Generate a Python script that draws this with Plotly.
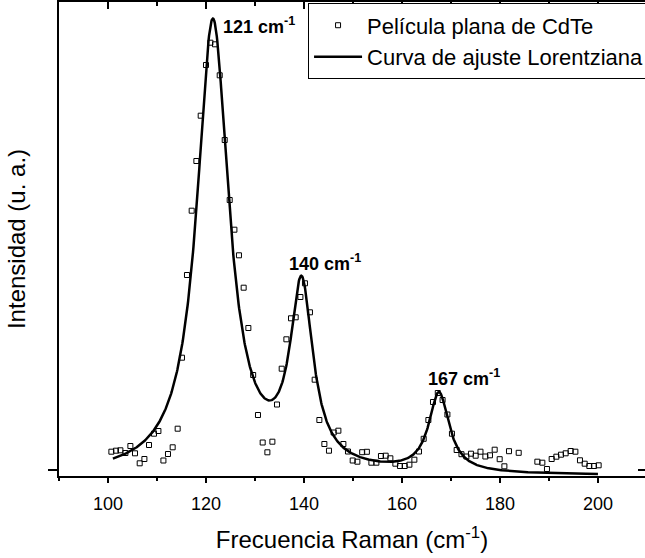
import numpy as np
import plotly.graph_objects as go

# ---- data ----
raman_shift = [100.69, 101.63, 102.53, 103.55, 104.57, 105.51, 106.47, 107.43, 108.37, 109.39,
               110.29, 111.31, 112.24, 113.20, 114.22, 115.10, 116.12, 117.08, 118.04, 118.92,
               120.00, 120.90, 121.84, 122.80, 123.82, 124.84, 125.80, 126.73, 127.69, 128.65,
               129.63, 130.61, 131.57, 132.53, 133.55, 134.49, 135.45, 136.41, 137.35, 138.31,
               139.27, 140.20, 141.22, 142.18, 143.14, 144.16, 145.10, 146.06, 147.02, 148.04,
               148.98, 149.94, 150.90, 151.88, 152.84, 153.76, 154.78, 155.71, 156.67, 157.63,
               158.65, 159.59, 160.55, 161.51, 162.53, 163.47, 164.43, 165.39, 166.33, 167.31,
               168.29, 169.27, 170.20, 171.16, 172.14, 173.14, 174.08, 175.04, 176.02, 177.02,
               177.96, 178.92, 179.94, 180.90, 181.84, 183.82, 187.63, 188.65, 189.59, 190.55,
               191.51, 192.45, 193.41, 194.43, 195.39, 196.33, 197.29, 198.24, 199.18, 200.14]
intensity = [18.3, 19.3, 19.7, 17, 24, 16.7, 6.7, 11, 25, 36.3,
             39, 9.5, 16, 22.7, 41.3, 112.3, 195, 259.3, 309, 354.3,
             405, 427.3, 425.7, 394.7, 330, 270, 240.3, 214.7, 182.3, 142,
             95, 55, 27.5, 17.7, 28.3, 65.5, 101.3, 130.7, 151.7, 152.7,
             173, 186.7, 157.7, 90.3, 50, 26, 19.3, 37.5, 39.3, 26,
             18.5, 9.5, 8.3, 17.8, 18.2, 7.3, 7.3, 14, 14.3, 11.7,
             6.3, 4, 4, 5.3, 10.3, 18.5, 31.2, 50, 68, 77,
             70, 55.5, 36.3, 20, 15.8, 13.5, 16.3, 14.3, 18.3, 13.5,
             14.7, 20.3, 10.8, 3.7, 18.8, 17.2, 8.3, 7.3, 1, 11,
             13.3, 15.3, 16.7, 19, 18.3, 9.7, 6.3, 4, 4, 4.7]

# Lorentzian fit parameters
peak_centers = [121.4, 139.5, 167.55]
peak_heights = [453.0, 179.0, 79.0]
peak_hwhm = [3.95, 2.8, 2.5]
fit_baseline = -6.0
fit_range = [101.0, 200.0]

peak_labels = ["121 cm<sup>-1</sup>", "140 cm<sup>-1</sup>", "167 cm<sup>-1</sup>"]
label_x = [123.0, 136.5, 164.9]
label_y = [445, 208, 93]

x_ticks = [100, 120, 140, 160, 180, 200]

# ---- fit curve from the Lorentzian parameters ----
xf = np.linspace(fit_range[0], fit_range[1], 1000)
yf = np.full_like(xf, fit_baseline)
for c, a, w in zip(peak_centers, peak_heights, peak_hwhm):
    yf += a / (1.0 + ((xf - c) / w) ** 2)

FONT = "Arial, Liberation Sans, sans-serif"
XR = [90, 209.6]
YR = [-6, 468]

fig = go.Figure()
fig.add_trace(go.Scatter(
    x=raman_shift, y=intensity, mode="markers",
    name="Película plana de CdTe",
    marker=dict(symbol="square-open", size=5, color="black", line=dict(width=1, color="black")),
))
fig.add_trace(go.Scatter(
    x=xf, y=yf, mode="lines",
    name="Curva de ajuste Lorentziana",
    line=dict(color="black", width=2.5),
))
# empty trace to bring the mirrored (top/right) axes into existence
fig.add_trace(go.Scatter(x=[], y=[], xaxis="x2", yaxis="y2", showlegend=False, hoverinfo="skip"))

for lx, ly, lt in zip(label_x, label_y, peak_labels):
    fig.add_annotation(x=lx, y=ly, text="<b>" + lt + "</b>", showarrow=False,
                       xanchor="left", yanchor="middle",
                       font=dict(family=FONT, size=18, color="black"))

fig.update_layout(
    width=645, height=558,
    margin=dict(l=59, r=0, t=2, b=82, autoexpand=False),
    paper_bgcolor="white", plot_bgcolor="white",
    font=dict(family=FONT, color="black"),
    showlegend=True,
    legend=dict(x=0.425, y=0.997, xanchor="left", yanchor="top",
                bordercolor="black", borderwidth=1, bgcolor="white",
                font=dict(family=FONT, size=22, color="black"),
                tracegroupgap=0, itemwidth=48),
    xaxis=dict(range=XR, tickvals=x_ticks, ticks="outside", ticklen=5, tickwidth=1.5,
               tickcolor="black", showline=True, linecolor="black", linewidth=1.5,
               showgrid=False, zeroline=False, ticklabelstandoff=6,
               tickfont=dict(family=FONT, size=18, color="black"),
               minor=dict(dtick=10, tick0=0, ticks="outside", ticklen=3, tickwidth=1.5,
                          tickcolor="black", showgrid=False),
               title=dict(text="Frecuencia Raman (cm<sup>-1</sup>)",
                          font=dict(family=FONT, size=24, color="black"), standoff=18)),
    yaxis=dict(range=YR, tickvals=[0], showticklabels=False, ticks="outside", ticklen=9,
               tickwidth=1.5, tickcolor="black", showline=True, linecolor="black", linewidth=1.5,
               showgrid=False, zeroline=False,
               title=dict(text="Intensidad (u. a.)",
                          font=dict(family=FONT, size=24, color="black"), standoff=16)),
    xaxis2=dict(overlaying="x", side="top", anchor="y", range=XR, tickvals=x_ticks,
                ticks="inside", ticklen=7, tickwidth=1.5, tickcolor="black",
                showticklabels=False, showline=True, linecolor="black", linewidth=1.5,
                showgrid=False, zeroline=False,
                minor=dict(dtick=10, tick0=0, ticks="inside", ticklen=4, tickwidth=1.5,
                           tickcolor="black", showgrid=False)),
    yaxis2=dict(overlaying="y", side="right", anchor="x", range=YR, tickvals=[0],
                ticks="inside", ticklen=7, tickwidth=1.5, tickcolor="black",
                showticklabels=False, showline=False, showgrid=False, zeroline=False),
)

fig.write_html("out.html")
